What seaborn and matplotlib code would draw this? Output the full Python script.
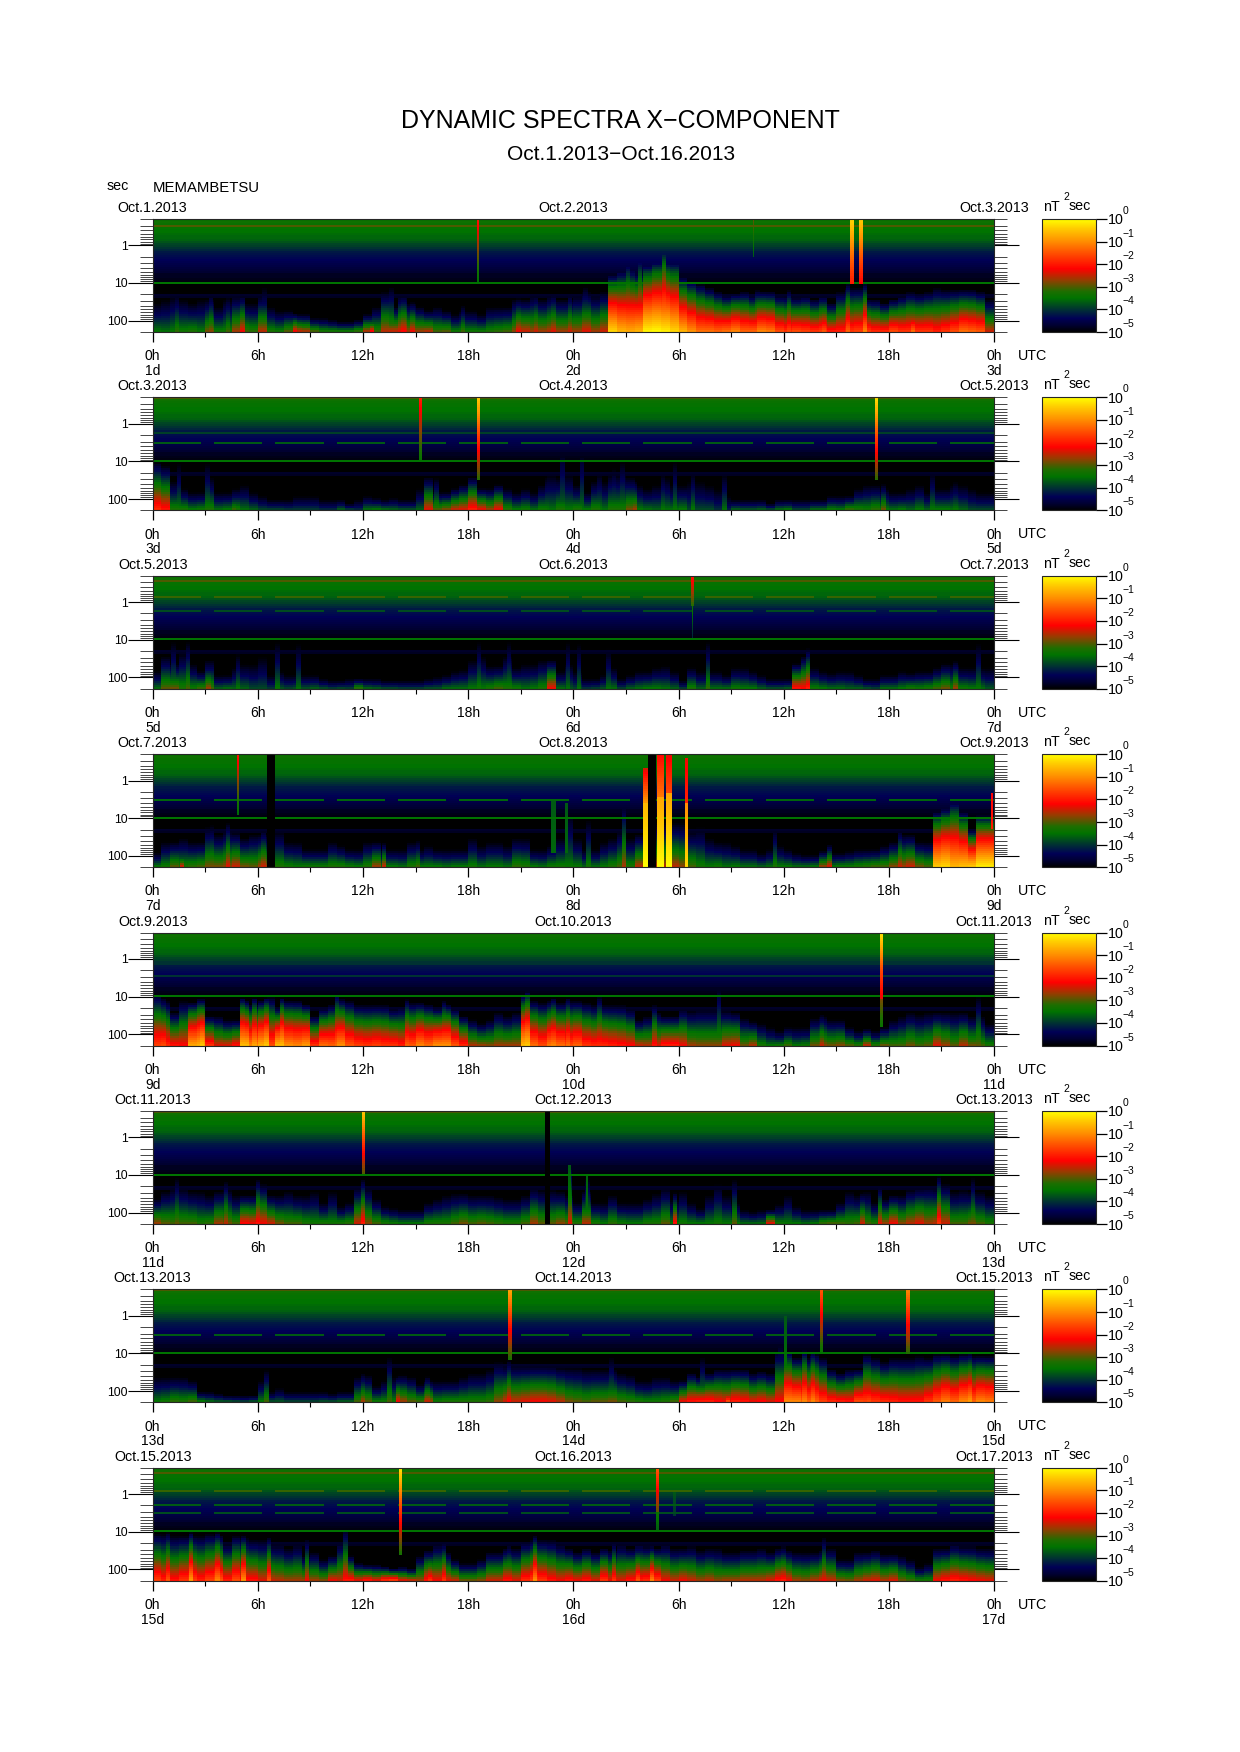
import numpy as np
import matplotlib
matplotlib.use("Agg")
import matplotlib.pyplot as plt
from matplotlib.colors import LinearSegmentedColormap
import seaborn as sns

# --- values -----------------------------------------------------------------
STATION = "MEMAMBETSU"
dates = ["Oct.1.2013", "Oct.2.2013", "Oct.3.2013", "Oct.4.2013", "Oct.5.2013", "Oct.6.2013",
         "Oct.7.2013", "Oct.8.2013", "Oct.9.2013", "Oct.10.2013", "Oct.11.2013", "Oct.12.2013",
         "Oct.13.2013", "Oct.14.2013", "Oct.15.2013", "Oct.16.2013", "Oct.17.2013"]

# log10(period) where the low frequency activity fades out, every 30 min over 48 h
height_1 = [1.4,1.3,1.2,1.3,1.4,1.3, 1.3,1.5,1.3,1.2,1.4,1.4, 1.2,1.5,1.6,1.6,1.7,1.7, 1.8,1.8,1.85,1.9,1.9,1.85,
            1.7,1.5,1.1,1.5,1.2,1.4, 1.5,1.6,1.5,1.6,1.7,1.6, 1.6,1.7,1.5,1.5,1.5,1.3, 1.3,1.2,1.3,1.2,1.3,1.3,
            1.2,1.1,1.2,1.1,0.65,0.55, 0.5,0.6,0.4,0.3,0.3,0.3, 0.7,0.8,0.9,1.0,1.1,1.2, 1.15,1.1,1.2,1.1,1.1,1.2,
            1.2,1.25,1.2,1.3,1.2,1.4, 1.1,1.0,1.0,1.3,1.3,1.4, 1.3,1.2,1.1,1.15,1.1,1.0, 1.05,1.05,1.05,1.05,1.1,1.3]
height_2 = [0.9,1.0,1.4,1.6,1.7,1.7, 1.3,1.7,1.7,1.6,1.5,1.7, 1.8,1.9,1.9,1.9,1.8,1.8, 1.8,1.9,1.9,1.9,2.0,1.9,
            1.8,1.85,1.9,1.85,1.9,1.9, 1.6,1.3,1.7,1.7,1.6,1.5, 1.3,1.6,1.6,1.5,1.6,1.7, 1.6,1.7,1.5,1.2,1.3,1.2,
            1.5,1.7,1.4,1.4,1.2,1.2, 1.3,1.5,1.6,1.5,1.3,1.5, 1.5,1.4,1.4,1.5,1.6,1.8, 1.9,1.9,1.9,1.9,2.0,1.9,
            1.9,1.9,1.9,1.9,1.9,1.8, 1.8,1.8,1.6,1.5,1.5,1.6, 1.7,1.7,1.6,1.5,1.7,1.6, 1.6,1.5,1.5,1.6,1.7,1.7]
height_3 = [1.7,1.3,1.5,1.2,1.5,1.7, 1.4,1.8,1.8,1.6,1.5,1.5, 1.3,1.8,1.7,1.8,1.8,1.8, 1.8,1.9,1.95,1.95,1.9,1.9,
            1.9,1.9,1.95,1.95,1.95,1.95, 1.95,1.9,1.85,1.8,1.7,1.65, 1.4,1.3,1.55,1.55,1.3,1.6, 1.5,1.5,1.4,1.4,1.7,1.5,
            1.7,1.9,1.9,1.8,1.6,1.9, 1.8,1.7,1.7,1.6,1.55,1.7, 1.95,1.6,1.7,1.7,1.7,1.8, 1.6,1.6,1.7,1.8,1.9,1.9,
            1.9,1.5,1.3,1.6,1.7,1.75, 1.7,1.7,1.8,1.9,1.9,1.8, 1.8,1.7,1.75,1.7,1.7,1.6, 1.5,1.5,1.6,1.6,1.6,1.6]
height_4 = [1.8,1.5,1.5,1.4,1.5,1.5, 1.1,1.3,1.2,1.25,1.4,1.3, 1.3,1.5,1.2,1.5,1.5,1.7, 1.7,1.7,1.5,1.6,1.7,1.7,
            1.5,1.5,1.7,1.7,1.7,1.5, 1.7,1.6,1.7,1.7,1.7,1.7, 1.4,1.6,1.5,1.5,1.6,1.4, 1.4,1.7,1.7,1.6,1.4,0.7,
            1.4,1.7,1.7,1.5,1.4,1.2, 1.4,1.3,1.1,1.0,1.0,1.0, 1.0,1.2,1.1,1.4,1.5,1.5, 1.6,1.7,1.7,1.8,1.7,1.6,
            1.7,1.8,1.85,1.85,1.75,1.8, 1.8,1.75,1.7,1.7,1.7,1.6, 1.5,1.3,1.3,1.5,1.5,0.7, 0.6,0.4,0.7,1.2,0.8,0.8]
height_5 = [0.8,1.0,1.3,1.0,1.05,0.95, 1.4,1.4,1.5,1.5,1.0,1.1, 1.0,0.9,1.2,1.0,1.0,1.1, 1.4,1.2,1.1,0.95,1.0,1.1,
            1.1,1.1,1.1,1.2,1.15,1.05, 1.05,1.1,1.2,1.1,1.2,1.4, 1.5,1.6,1.5,1.3,1.4,1.3, 0.85,1.0,1.05,1.0,1.05,1.0,
            1.0,1.05,1.1,1.1,1.1,1.1, 1.2,1.5,1.4,1.3,1.4,1.4, 1.2,1.25,1.2,1.2,1.2,1.25, 1.3,1.45,1.55,1.6,1.7,1.8,
            1.7,1.7,1.7,1.45,1.4,1.5, 1.5,1.7,1.8,1.75,1.8,1.7, 1.5,1.4,1.3,1.35,1.3,1.3, 1.3,1.3,1.3,1.4,1.4,1.6]
height_6 = [1.5,1.3,1.2,1.2,1.3,1.3, 1.4,1.3,1.25,1.4,1.4,1.4, 1.1,1.4,1.4,1.3,1.4,1.4, 1.3,1.6,1.3,1.7,1.6,1.2,
            1.2,1.5,1.7,1.75,1.8,1.8, 1.8,1.6,1.5,1.4,1.35,1.35, 1.4,1.4,1.4,1.45,1.5,1.5, 1.4,1.2,1.25,1.25,1.3,1.4,
            1.6,1.3,1.6,1.6,1.4,1.6, 1.6,1.6,1.5,1.35,1.2,1.5, 1.3,1.6,1.75,1.4,1.1,1.4, 1.6,1.8,1.85,1.8,1.8,1.65,
            1.4,1.7,1.8,1.8,1.8,1.8, 1.6,1.3,1.4,1.3,1.6,1.5, 1.4,1.4,1.25,1.2,1.15,1.2, 1.1,1.3,1.25,1.3,1.3,1.4]
height_7 = [1.5,1.5,1.5,1.5,1.6,1.9, 1.9,1.95,2.0,2.0,2.0,2.0, 1.6,1.9,1.8,1.9,1.9,1.9, 1.9,1.9,1.95,1.9,1.9,1.5,
            1.45,1.75,1.6,1.5,1.45,1.5, 1.7,1.6,1.6,1.6,1.6,1.5, 1.4,1.4,1.3,1.1,1.2,1.2, 1.2,1.2,1.2,1.2,1.25,1.25,
            1.25,1.3,1.3,1.3,1.3,1.4, 1.45,1.6,1.6,1.5,1.5,1.6, 1.6,1.4,1.5,1.4,1.3,1.3, 1.3,1.3,1.4,1.35,1.4,0.8,
            0.8,1.0,1.0,0.9,1.0,1.3, 1.4,1.3,1.3,0.9,1.0,1.1, 1.0,1.0,1.0,0.95,1.0,0.9, 0.9,0.95,0.9,0.95,0.95,0.95]
height_8 = [0.95,0.95,1.0,1.0,1.0,1.0, 0.95,0.98,1.2,1.0,1.05,1.1, 1.1,1.2,1.2,1.3,1.2,1.5, 1.4,1.6,1.5,1.15,1.5,1.7,
            1.75,1.75,1.8,1.85,1.8,1.85, 1.5,1.35,1.2,1.4,1.6,1.7, 1.7,1.6,1.4,1.4,1.3,1.3, 1.15,1.1,1.1,1.1,1.2,1.3,
            1.4,1.3,1.4,1.3,1.35,1.2, 1.3,1.2,1.25,1.3,1.2,1.3, 1.3,1.25,1.35,1.3,1.3,1.4, 1.4,1.35,1.35,1.3,1.4,1.3,
            1.35,1.4,1.4,1.4,1.35,1.3, 1.6,1.6,1.4,1.4,1.35,1.45, 1.45,1.5,1.6,1.8,1.7,1.3, 1.3,1.2,1.25,1.25,1.3,1.3]

# log10(power) at the long period end, every 30 min over 48 h
peak_1 = [-3.4,-3.5,-3.4,-3.3,-3.2,-3.4, -2.8,-3.3,-3.3,-2.6,-3.0,-3.1, -2.5,-3.2,-3.3,-2.9,-2.4,-2.5, -2.9,-3.2,-3.2,-3.2,-3.2,-3.0,
          -2.5,-3.0,-2.5,-2.4,-2.3,-2.6, -2.6,-2.5,-3.0,-2.9,-3.3,-3.3, -3.3,-3.3,-3.2,-3.1,-3.0,-2.7, -2.4,-2.6,-2.6,-2.5,-2.6,-2.6,
          -2.6,-2.3,-2.6,-2.4,-0.3,-0.6, -0.7,-0.6,-0.05,0.0,-0.1,-0.3, -0.6,-0.9,-1.2,-1.2,-1.3,-1.2, -1.0,-1.3,-1.3,-1.0,-1.1,-1.5,
          -1.7,-1.5,-1.6,-1.7,-1.6,-1.9, -1.9,-1.7,-1.6,-1.6,-1.8,-1.8, -1.5,-1.7,-1.7,-1.7,-1.7,-1.9, -1.7,-1.5,-1.2,-1.3,-1.4,-2.4]
peak_2 = [-1.8,-2.0,-3.2,-3.2,-3.4,-3.3, -3.2,-3.5,-3.4,-3.2,-3.5,-3.6, -3.8,-3.8,-3.8,-3.9,-3.9,-3.9, -3.9,-4.0,-4.0,-3.6,-3.8,-4.0,
          -3.5,-3.4,-3.5,-3.6,-3.7,-3.7, -3.6,-2.3,-2.9,-2.7,-2.4,-2.3, -1.9,-2.2,-2.6,-2.2,-3.1,-3.4, -3.3,-3.5,-3.3,-3.5,-3.2,-3.4,
          -3.2,-3.4,-3.2,-3.5,-3.2,-3.2, -2.8,-3.4,-3.5,-3.6,-3.5,-3.5, -3.4,-3.8,-3.8,-3.8,-4.0,-4.1, -3.6,-3.7,-3.7,-3.6,-3.7,-3.5,
          -3.4,-3.8,-3.8,-3.5,-3.5,-3.3, -3.4,-3.0,-3.2,-3.3,-3.1,-3.4, -3.5,-3.4,-3.6,-3.4,-3.6,-3.4, -3.4,-3.5,-3.6,-3.8,-3.8,-3.8]
peak_3 = [-3.5,-2.9,-2.8,-3.2,-3.3,-3.0, -3.0,-3.6,-3.5,-3.6,-3.6,-3.8, -3.8,-3.9,-3.7,-3.8,-3.7,-3.7, -3.6,-3.7,-3.8,-3.7,-3.8,-3.0,
          -3.5,-3.6,-3.7,-3.7,-3.8,-3.8, -3.8,-3.7,-3.7,-3.5,-3.5,-3.5, -3.4,-3.4,-3.2,-3.0,-3.2,-3.3, -3.5,-3.4,-3.2,-2.2,-3.5,-3.7,
          -3.8,-3.9,-3.8,-3.7,-3.5,-3.8, -3.6,-3.5,-3.4,-3.4,-3.5,-3.6, -3.8,-3.2,-3.6,-3.5,-3.5,-3.5, -3.3,-3.4,-3.4,-3.6,-3.7,-3.7,
          -3.6,-2.0,-2.1,-3.3,-3.4,-3.5, -3.5,-3.6,-3.6,-3.7,-3.8,-3.5, -3.5,-3.4,-3.2,-3.3,-3.2,-3.0, -2.8,-3.2,-3.3,-3.4,-3.5,-3.7]
peak_4 = [-3.4,-3.3,-2.9,-3.2,-3.1,-3.0, -2.8,-2.8,-2.7,-2.4,-2.8,-2.9, -2.6,-3.0,-3.2,-3.3,-3.4,-3.3, -3.3,-3.3,-3.2,-3.2,-3.3,-3.4,
          -3.2,-2.6,-3.4,-3.4,-3.5,-3.2, -3.4,-3.4,-3.4,-3.5,-3.4,-3.4, -3.3,-3.5,-3.4,-3.4,-3.5,-3.1, -3.2,-3.4,-3.5,-3.3,-3.3,-3.4,
          -3.4,-3.6,-3.5,-3.4,-3.2,-3.0, -3.2,-2.5,-2.5,-2.5,-2.5,-2.5, -2.7,-3.0,-3.3,-3.4,-3.3,-3.5, -3.4,-3.5,-3.5,-3.6,-3.5,-3.4,
          -3.4,-3.5,-3.5,-3.4,-2.6,-3.4, -3.3,-3.3,-3.2,-3.1,-3.0,-3.0, -2.7,-2.6,-2.4,-2.8,-3.0,-0.4, -0.3,-0.6,-0.5,-0.4,-0.1,-0.1]
peak_5 = [-1.6,-1.8,-2.0,-2.1,-0.7,-0.6, -1.7,-2.3,-2.3,-2.0,-0.5,-1.0, -0.6,-1.5,-0.5,-0.9,-1.0,-0.8, -1.7,-1.2,-1.3,-0.9,-1.4,-1.6,
          -1.7,-1.6,-1.7,-1.7,-1.9,-1.4, -1.0,-1.2,-0.9,-0.9,-1.4,-1.8, -2.5,-2.6,-2.7,-2.6,-2.6,-2.6, -0.5,-1.2,-1.5,-1.1,-1.2,-1.5,
          -1.3,-1.7,-1.8,-1.8,-1.9,-2.0, -2.1,-2.4,-2.5,-2.3,-1.9,-1.9, -2.2,-2.6,-2.7,-2.7,-2.7,-2.3, -2.2,-2.8,-2.5,-3.2,-3.4,-3.3,
          -3.0,-3.4,-3.3,-2.8,-2.7,-2.8, -2.7,-2.9,-3.1,-2.4,-3.1,-2.8, -3.0,-3.0,-2.8,-3.0,-2.9,-2.3, -2.6,-2.9,-2.5,-2.8,-3.0,-3.2]
peak_6 = [-2.6,-2.9,-3.0,-3.0,-3.0,-3.2, -3.1,-2.6,-2.8,-3.0,-2.1,-2.2, -2.2,-2.4,-2.8,-3.0,-3.0,-3.2, -3.3,-3.2,-3.3,-3.2,-3.1,-2.4,
          -2.7,-3.0,-3.2,-3.3,-3.4,-3.4, -3.4,-3.2,-3.2,-3.2,-3.0,-2.8, -3.0,-2.9,-3.0,-3.1,-3.2,-3.2, -3.0,-2.6,-2.9,-2.9,-2.7,-2.9,
          -3.1,-2.5,-3.2,-3.4,-3.1,-3.3, -3.4,-3.4,-3.2,-3.2,-2.9,-3.4, -3.3,-3.4,-3.4,-3.4,-3.3,-3.4, -3.4,-3.5,-3.5,-3.5,-2.2,-3.3,
          -3.4,-3.4,-3.5,-3.4,-3.0,-2.9, -3.0,-3.1,-3.0,-3.0,-3.1,-2.6, -2.2,-2.7,-2.5,-2.3,-2.6,-2.5, -2.4,-3.0,-3.0,-2.8,-3.0,-3.2]
peak_7 = [-3.4,-3.3,-3.1,-3.2,-3.0,-3.3, -3.5,-3.6,-3.6,-3.7,-3.8,-3.6, -3.4,-3.7,-3.7,-3.8,-3.8,-3.8, -3.8,-3.7,-3.7,-3.6,-3.6,-3.0,
          -2.9,-3.3,-3.3,-3.3,-2.6,-2.9, -3.0,-2.6,-3.3,-3.2,-3.2,-3.2, -3.2,-3.2,-3.1,-2.7,-2.4,-2.4, -2.3,-2.2,-2.2,-2.3,-2.5,-2.8,
          -2.9,-3.0,-2.9,-2.9,-2.8,-3.0, -3.1,-3.2,-3.3,-3.3,-3.2,-3.0, -2.2,-2.0,-1.9,-1.9,-2.1,-2.2, -1.9,-2.0,-2.2,-2.1,-2.3,-2.1,
          -1.0,-1.0,-1.3,-1.3,-1.6,-1.8, -1.9,-2.0,-1.5,-1.6,-1.7,-1.8, -1.9,-2.0,-2.0,-2.0,-1.7,-1.4, -1.1,-1.3,-1.0,-1.3,-1.0,-1.1]
peak_8 = [-1.6,-1.9,-2.0,-1.7,-1.6,-1.9, -1.6,-1.4,-1.9,-1.5,-2.0,-2.0, -2.3,-2.4,-2.5,-2.6,-2.6,-2.6, -2.6,-2.7,-2.2,-2.4,-1.9,-2.2,
          -1.9,-2.2,-1.7,-1.5,-2.2,-2.3, -2.6,-2.0,-2.2,-2.3,-2.4,-2.8, -2.8,-2.7,-2.4,-2.4,-2.0,-2.3, -1.8,-1.6,-1.7,-2.0,-2.2,-2.0,
          -2.2,-2.0,-2.3,-1.7,-2.2,-2.3, -2.0,-1.9,-1.8,-1.6,-2.2,-2.4, -2.2,-2.4,-2.6,-2.5,-2.7,-2.6, -2.6,-2.5,-2.5,-2.5,-2.3,-2.0,
          -2.2,-2.6,-2.7,-2.5,-2.3,-2.4, -2.7,-2.8,-2.6,-2.4,-2.3,-2.5, -2.3,-2.8,-3.0,-3.2,-3.2,-2.2, -2.0,-1.9,-2.0,-2.1,-2.2,-2.3]

# narrow plumes from the bottom edge: hour, fade out log period, level at the bottom
plumes_1 = [(1.4,1.27,-3.1),(3.3,1.27,-2.7),(4.3,1.35,-3.0),(5.1,1.3,-2.2),(6.4,1.09,-3.2),(8.1,1.8,-2.1),(12.5,1.9,-2.0),
            (13.6,1.09,-2.8),(14.3,1.3,-2.1),(14.8,1.5,-2.2),(15.7,1.9,-2.4),(17.7,1.58,-3.0),(20.9,1.4,-2.2),(21.9,1.3,-2.4),
            (22.9,1.27,-2.3),(23.8,1.27,-2.4),(24.7,1.09,-2.6),(27.1,.45,-.9),(27.8,.3,-1.0),(29.2,.05,-.3),(34.5,1.18,-1.4),
            (36.3,1.18,-1.5),(38.3,1.35,-1.4),(39.7,1.0,-1.3),(40.6,1.0,-1.0),(43.4,1.5,-1.2)]
plumes_2 = [(1.5,1.04,-3.4),(3.1,1.04,-3.3),(4.6,1.8,-3.0),(16.2,1.44,-3.0),(22.5,1.4,-3.4),(23.4,.6,-3.5),(24.5,.65,-3.5),
            (25.5,1.3,-3.4),(26.3,1.18,-3.3),(26.8,1.0,-3.3),(27.5,1.53,-2.6),(29.1,1.3,-3.4),(29.8,1.0,-3.4),(30.8,1.27,-3.4),
            (32.6,1.31,-3.5),(41.7,1.6,-2.8),(44.5,1.27,-3.4),(45.8,1.53,-3.4)]
plumes_3 = [(1.2,1.06,-3.3),(2.0,1.06,-3.0),(3.2,1.6,-2.6),(4.9,1.37,-3.4),(7.1,1.06,-3.4),(8.3,1.1,-3.5),(18.6,1.06,-3.3),
            (20.3,1.06,-3.3),(23.7,1.06,-3.5),(24.3,1.1,-3.5),(26,1.24,-3.5),(31.7,1.06,-3.1),(37.4,1.24,-1.9),(45.8,1.55,-2.6),
            (47.1,1.1,-3.4)]
plumes_4 = [(1.7,1.9,-2.3),(3.4,1.17,-2.8),(4.3,1.12,-2.3),(6.3,1.3,-2.4),(13.2,1.65,-2.4),(15.1,1.57,-3.0),(24.9,1.03,-3.3),
            (26.9,.55,-2.6),(35.5,1.25,-3.2),(38.6,1.7,-2.3),(42.6,1.3,-2.4)]
plumes_5 = [(.6,1.04,-1.5),(2.8,1.08,-.4),(5.1,1.04,-.5),(5.8,1.04,-.7),(6.5,1.04,-.4),(7.4,1.04,-.5),(10.5,.92,-1.2),(14.5,1.08,-1.3),
            (16.6,1.12,-1.2),(21.4,.86,-.4),(22.9,1.04,-1.0),(23.7,1.04,-1.2),(25.5,1.0,-1.8),(28.6,1.21,-2.0),(32.3,.68,-3.0),
            (38.2,1.48,-2.4),(47.1,1.0,-2.9)]
plumes_6 = [(1.4,1.06,-2.9),(4.2,1.15,-2.5),(6.0,1.1,-2.0),(12,1.1,-1.9),(23.8,.7,-2.3),(24.8,1.06,-2.9),(29.8,1.46,-2.0),
            (33.2,1.1,-2.9),(40.5,1.46,-2.4),(41.5,1.28,-2.3),(44.9,1.02,-1.7),(46.8,1.06,-2.8)]
plumes_7 = [(6.5,1.44,-3.0),(12,1.53,-2.6),(13.5,1.09,-3.0),(14,1.62,-2.2),(15.7,1.62,-2.4),(20.3,1.18,-2.1),(26.2,1.09,-3.1),
            (31.4,1.09,-3.0),(32.8,1.88,-1.4),(35.8,.56,-3.2),(37.2,.9,-1.0),(37.7,.95,-1.0),(40.9,1.18,-1.5),(46.6,1.0,-.8)]
plumes_8 = [(.9,1.03,-1.4),(2.2,1.03,-.8),(3.7,1.03,-1.0),(5.2,1.12,-.9),(6.6,1.16,-1.4),(8.8,1.2,-2.2),(11,.94,-2.0),(15.8,1.5,-1.7),
            (16.6,1.29,-1.7),(20.3,1.34,-2.1),(21.8,1.12,-.9),(26.3,1.29,-1.7),(27.7,1.38,-1.4),(28.5,1.38,-1.0),(36,1.38,-1.9),
            (38.3,1.16,-2.2)]

# short events: hour, duration (h), log period top, log period bottom, level top, level bottom
events_1 = [(18.6, .15, -.7, 1.0, -2.0, -3.6), (34.3, .1, -.7, .3, -2.9, -3.7), (39.95, .2, -.7, 1.0, -.3, -2.0), (40.45, .2, -.7, 1.0, -.4, -2.2)]
events_2 = [(15.3, .15, -.7, 1.0, -1.9, -3.5), (18.6, .2, -.7, 1.5, -.4, -3.2), (41.3, .2, -.7, 1.5, -.2, -3.2)]
events_3 = [(30.8, .15, -.7, .1, -2.0, -3.2), (30.8, .1, .1, 1.0, -3.3, -4.2)]
events_4 = [(4.9, .15, -.7, .9, -2.0, -3.6), (22.9, .2, .5, 1.9, -3.7, -3.6), (23.6, .2, .6, 1.9, -3.7, -3.6),
            (28.15, .2, .6, 2.3, -.6, 0.), (28.15, .2, -.3, .6, -2.4, -.8), (29.0, .4, .4, 2.3, -.8, 0.), (29.0, .4, -.7, .4, -2.2, -1.2),
            (29.5, .3, .3, 2.3, -.8, 0.), (29.5, .3, -.7, .3, -2.3, -1.6), (30.5, .2, .6, 2.3, -1., -.3), (30.5, .2, -.6, .6, -2.3, -1.9),
            (47.9, .1, .3, 1.3, -2.2, -2.0)]
events_5 = [(41.6, .2, -.7, .3, -.2, -1.6), (41.6, .2, .3, 1.05, -1.6, -2.3), (41.6, .2, 1.05, 1.8, -2.8, -3.4)]
events_6 = [(12.05, .2, -.7, .95, -.4, -3.0), (23.8, .15, .75, 1.8, -3.7, -3.4), (24.8, .1, 1.0, 1.9, -3.6, -3.6)]
events_7 = [(20.4, .2, -.7, 1.2, -.7, -3.3), (38.2, .2, -.7, 1.0, -1.4, -3.5), (43.1, .2, -.7, 1.0, -1.0, -3.2), (36.1, .2, .0, 1.5, -3.7, -3.5)]
events_8 = [(14.2, .2, -.7, 1.6, -.2, -3.3), (28.8, .15, -.7, .5, -1.4, -3.0), (28.8, .15, .5, 1.0, -3.4, -3.7), (29.8, .15, -.3, .6, -3.6, -4.0)]

# narrow steady lines: log period, level, broken (1) or whole (0)
lines_1 = [(-.53, -3.0, 0), (1.0, -3.5, 0)]
lines_2 = [(-.65, -3.0, 0), (.22, -3.9, 0), (.5, -3.7, 1), (1.0, -3.5, 0)]
lines_3 = [(-.55, -3.0, 0), (-.13, -3.1, 1), (.23, -3.8, 1), (1.0, -3.5, 0)]
lines_4 = [(.5, -3.6, 1), (1.0, -3.5, 0)]
lines_5 = [(.15, -4.0, 0), (.45, -4.0, 0), (1.0, -3.5, 0)]
lines_6 = [(-.65, -3.0, 0), (1.0, -3.5, 0)]
lines_7 = [(-.68, -3.0, 0), (.5, -3.7, 1), (1.0, -3.5, 0)]
lines_8 = [(-.55, -3.0, 0), (-.08, -3.1, 1), (.29, -3.7, 1), (.5, -3.8, 1), (1.0, -3.5, 0)]

# data gaps: start hour, end hour
gaps_4 = [(6.5, 7.0), (28.3, 28.7)]
gaps_6 = [(22.4, 22.7)]

# quiet background level for each period row, short periods first
background = [-3.4,-3.35,-3.4,-3.45,-3.45,-3.5,-3.5,-3.55,-3.6,-3.6,-3.65,-3.75,-3.85,-3.9,
              -4.0,-4.1,-4.2,-4.25,-4.3,-4.35,-4.4,-4.45,-4.5,-4.55,-4.6,-4.65,-4.7,-4.8,
              -4.8,-4.85,-4.9,-4.95,-5.,-5.,-5.,-5.,-5.,-4.75,-4.8,-5.,-5.,-5.,
              -5.,-5.,-5.,-5.,-5.,-5.,-5.,-5.,-5.,-5.,-5.,-5.,-5.,-5.]

# Axes constants
T_TOP, T_BOTTOM = np.log10(0.2), np.log10(200)
N_ROWS = len(background)
COLS_PER_BIN = 8
PLUME_HOURS = 0.18
HEIGHT_LIFT = 0.12
WIDTH, HEIGHT = 1240, 1752

level_colors = [(-5, (0, 0, 0)), (-4.7, (0, 0, 50)), (-4.4, (0, 0, 85)), (-4.0, (0, 50, 50)),
                (-3.5, (0, 115, 0)), (-3.2, (30, 110, 0)), (-2.7, (150, 60, 0)), (-2.2, (255, 0, 0)),
                (-1.5, (255, 80, 0)), (-1.0, (255, 140, 0)), (-0.4, (255, 205, 0)), (0, (255, 255, 0))]
cmap = LinearSegmentedColormap.from_list(
    "spectra", [((lv + 5) / 5, tuple(c / 255 for c in rgb)) for lv, rgb in level_colors], N=512)


def rect(left, top, w, h):
    return [left / WIDTH, 1 - (top + h) / HEIGHT, w / WIDTH, h / HEIGHT]


def row_of(period):
    return (np.log10(period) - T_TOP) / (T_BOTTOM - T_TOP) * N_ROWS


def activity(t, h, p):
    """Level over the period rows for a column fading out at h, with level p at the bottom."""
    f = np.clip((t - h) / (T_BOTTOM - h), 0, 1)
    gamma = np.interp(p, [-4, -2.5, 0], [1.25, 1.0, 0.7])
    return -5 + (p + 5) * f ** gamma


def build_matrix(height, peak, plumes, events, lines, gaps):
    t = T_TOP + (np.arange(N_ROWS) + 0.5) * (T_BOTTOM - T_TOP) / N_ROWS
    bg = np.array(background)
    n_cols = len(height) * COLS_PER_BIN
    mat = np.tile(bg[:, None], (1, n_cols))
    for j, (h, p) in enumerate(zip(height, peak)):
        col = np.maximum(bg, activity(t, h + HEIGHT_LIFT, p))
        mat[:, j * COLS_PER_BIN:(j + 1) * COLS_PER_BIN] = col[:, None]
    per_hour = n_cols / 48
    for hour, h, p in plumes:
        c0 = int((hour - PLUME_HOURS / 2) * per_hour)
        c1 = int((hour + PLUME_HOURS / 2) * per_hour) + 1
        mat[:, c0:c1] = np.maximum(mat[:, c0:c1], activity(t, h, p)[:, None])
    for lt, level, broken in lines:
        r = int((lt - T_TOP) / (T_BOTTOM - T_TOP) * N_ROWS)
        r = min(max(r, 0), N_ROWS - 1)
        on = (np.arange(n_cols) % 56 < 44) if broken else np.ones(n_cols, bool)
        mat[r, on] = np.maximum(mat[r, on], level)
    for hour, dur, t0, t1, l0, l1 in events:
        c0 = int((hour - dur / 2) * per_hour)
        c1 = max(c0 + 1, int((hour + dur / 2) * per_hour))
        inside = (t >= t0) & (t <= t1)
        vals = l0 + (t - t0) / (t1 - t0) * (l1 - l0)
        idx = np.ix_(inside, range(c0, c1))
        mat[idx] = np.maximum(mat[idx], vals[inside][:, None])
    for start, end in gaps:
        mat[:, int(start * per_hour):int(end * per_hour)] = -5
    return mat


def note(ax, x, y, text, size=10.3, ha="center", dx=0, ydata=0):
    """Text placed by pixel offset from a data x position on the bottom or top edge of ax."""
    ax.annotate(text, xy=(x, ydata), xycoords=("data", "axes fraction"), xytext=(dx * 0.72, y * 0.72),
                textcoords="offset points", ha=ha, va="center", fontsize=size, annotation_clip=False)


def draw_panel(fig, index, mat):
    top = 219 + index * 178.4
    ax = fig.add_axes(rect(152.7, top, 841.3, 113))
    cax = fig.add_axes(rect(1041.7, top, 54, 113))
    sns.heatmap(mat, ax=ax, cbar_ax=cax, cmap=cmap, vmin=-5, vmax=0, xticklabels=False, yticklabels=False,
                cbar_kws={"ticks": [-5, -4, -3, -2, -1, 0]})
    for spine in ax.spines.values():
        spine.set_visible(True)
        spine.set_linewidth(0.8)

    per_hour = mat.shape[1] / 48
    # period axis on both sides
    ax.set_yticks([row_of(p) for p in (1, 10, 100)])
    ax.set_yticklabels(["1", "10", "100"], fontsize=8.8)
    minors = [m * d for d in (0.1, 1, 10) for m in range(2, 10)] + [200]
    ax.set_yticks([row_of(p) for p in minors], minor=True)
    ax.tick_params(axis="y", which="major", left=True, right=True, length=18, width=0.8, pad=0, color="black",
                   direction="out")
    ax.tick_params(axis="y", which="minor", left=True, right=True, length=9.4, width=0.7, color="#444444",
                   direction="out")
    # time axis
    hours = np.arange(0, 49, 6)
    ax.set_xticks(hours * per_hour)
    ax.set_xticklabels([f"{h % 24}h" for h in hours], fontsize=10, rotation=0)
    ax.set_xticks(np.arange(3, 49, 6) * per_hour, minor=True)
    ax.tick_params(axis="x", which="major", bottom=True, length=7.2, width=0.9, pad=5.2, direction="out")
    ax.tick_params(axis="x", which="minor", bottom=True, length=3.6, width=0.8, direction="out")

    day = index * 2
    for k, hour in enumerate((0, 24, 48)):
        note(ax, hour * per_hour, 11, dates[day + k], ydata=1)
        note(ax, hour * per_hour, -39, f"{day + k + 1}d", size=10)
    note(ax, 48 * per_hour, -24, "UTC", ha="left", dx=24)

    # colour bar
    cb = ax.collections[0].colorbar
    cb.outline.set_visible(True)
    cb.outline.set_linewidth(0.8)
    cb.ax.tick_params(length=8, width=0.9, pad=0.5, direction="out", right=True)
    cb.ax.set_yticklabels(["10"] * 6, fontsize=10.3)
    for lv in range(-5, 1):
        label = str(lv).replace("-", "\u2212")
        cb.ax.annotate(label, xy=(1, lv), xycoords=("axes fraction", "data"), xytext=(27 * 0.72, 8 * 0.72),
                       textcoords="offset points", fontsize=7.5, va="center", ha="left", annotation_clip=False)
    fig.text(1042.7 / WIDTH, 1 - (top - 12) / HEIGHT, "nT", fontsize=10.3, va="center")
    fig.text(1063.5 / WIDTH, 1 - (top - 22) / HEIGHT, "2", fontsize=7.5, va="center")
    fig.text(1069 / WIDTH, 1 - (top - 13) / HEIGHT, "sec", fontsize=10.3, va="center")


panels = [(height_1, peak_1, plumes_1, events_1, lines_1, []),
          (height_2, peak_2, plumes_2, events_2, lines_2, []),
          (height_3, peak_3, plumes_3, events_3, lines_3, []),
          (height_4, peak_4, plumes_4, events_4, lines_4, gaps_4),
          (height_5, peak_5, plumes_5, events_5, lines_5, []),
          (height_6, peak_6, plumes_6, events_6, lines_6, gaps_6),
          (height_7, peak_7, plumes_7, events_7, lines_7, []),
          (height_8, peak_8, plumes_8, events_8, lines_8, [])]

sns.set_style("white")
plt.rcParams["font.family"] = ["Liberation Sans", "DejaVu Sans"]
plt.rcParams.update({"text.color": "black", "xtick.color": "black", "ytick.color": "black"})

fig = plt.figure(figsize=(WIDTH / 100, HEIGHT / 100), dpi=100, facecolor="white")
fig.text(620 / WIDTH, 1 - 121 / HEIGHT, "DYNAMIC SPECTRA X\u2212COMPONENT", fontsize=18, ha="center", va="center")
fig.text(621 / WIDTH, 1 - 155 / HEIGHT, "Oct.1.2013\u2212Oct.16.2013", fontsize=15, ha="center", va="center")
fig.text(107 / WIDTH, 1 - 186 / HEIGHT, "sec", fontsize=10.3, va="center")
fig.text(153 / WIDTH, 1 - 188 / HEIGHT, STATION, fontsize=10.7, va="center")

for i, (h_vals, p_vals, pl, ev, ln, gp) in enumerate(panels):
    draw_panel(fig, i, build_matrix(h_vals, p_vals, pl, ev, ln, gp))

fig.savefig("out.png", dpi=100)
